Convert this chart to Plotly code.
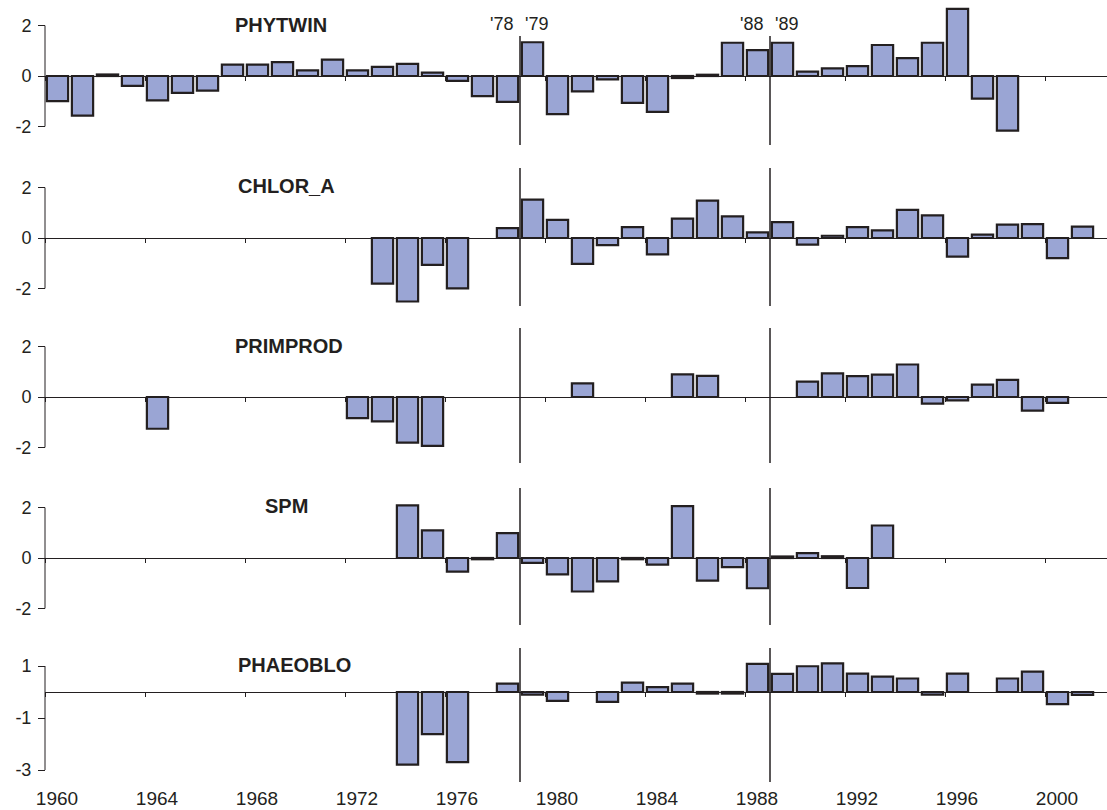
import plotly.graph_objects as go

# ---------------- data ----------------
years = list(range(1960, 2002))

phytwin = [-1.0, -1.57, 0.06, -0.39, -0.97, -0.67, -0.58, 0.45, 0.45, 0.55,
           0.22, 0.65, 0.22, 0.36, 0.48, 0.13, -0.19, -0.8, -1.03, 1.34,
           -1.51, -0.61, -0.13, -1.07, -1.42, -0.08, 0.05, 1.32, 1.03, 1.32,
           0.17, 0.30, 0.39, 1.23, 0.71, 1.32, 2.66, -0.9, -2.17, None,
           None, None]

chlor_a = [None] * 13 + [-1.81, -2.52, -1.07, -2.0, None, 0.39, 1.52,
           0.72, -1.03, -0.28, 0.43, -0.65, 0.77, 1.48, 0.86, 0.22, 0.63,
           -0.26, 0.09, 0.43, 0.30, 1.12, 0.90, -0.74, 0.13, 0.53, 0.55,
           -0.8, 0.45]

primprod = [None, None, None, None, -1.26, None, None, None, None, None,
            None, None, -0.84, -0.97, -1.81, -1.94, None, None, None, None,
            None, 0.54, None, None, None, 0.90, 0.84, None, None, None,
            0.61, 0.94, 0.83, 0.89, 1.29, -0.26, -0.13, 0.49, 0.68, -0.54,
            -0.23, None]

spm = [None] * 14 + [2.09, 1.10, -0.54, -0.05, 0.99, -0.19,
       -0.65, -1.33, -0.93, -0.05, -0.26, 2.06, -0.90, -0.36, -1.20, 0.06,
       0.19, 0.07, -1.19, 1.29, None, None, None, None, None, None,
       None, None]

phaeoblo = [None] * 14 + [-2.79, -1.62, -2.70, None, 0.32, -0.10,
            -0.34, None, -0.38, 0.36, 0.19, 0.32, -0.06, -0.06, 1.08, 0.70,
            0.99, 1.10, 0.71, 0.59, 0.52, -0.10, 0.71, None, 0.52, 0.78,
            -0.47, -0.11]

series_names = ["PHYTWIN", "CHLOR_A", "PRIMPROD", "SPM", "PHAEOBLO"]
series_values = [phytwin, chlor_a, primprod, spm, phaeoblo]
y_ticks = [[-2, 0, 2], [-2, 0, 2], [-2, 0, 2], [-2, 0, 2], [-3, -1, 1]]
year_labels = [str(y) for y in range(1960, 2001, 4)]
break_years = [1979, 1989]
break_labels = [("'78", "'79"), ("'88", "'89")]

# ---------------- layout geometry ----------------
W, H = 1107, 810
ML = 45
PPY = 25.0  # px per year
x_range = [1959.5, 1959.5 + (W - ML) / PPY]

# per panel: zero px, px per unit, domain top px, domain bottom px,
# vertical-line top/bottom px, title centre x px, title y px
panels = [
    dict(zero=76, ppu=25.2, top=0, bot=150, lt=36, lb=145, tx=281, ty=25),
    dict(zero=238, ppu=25.2, top=158, bot=312, lt=168, lb=306, tx=286, ty=186),
    dict(zero=397, ppu=25.2, top=318, bot=470, lt=328, lb=463, tx=289, ty=346),
    dict(zero=558, ppu=25.2, top=478, bot=632, lt=488, lb=625, tx=286, ty=506),
    dict(zero=692, ppu=26.0, top=640, bot=786, lt=648, lb=782, tx=294, ty=665),
]

FONT = "Liberation Sans, Arial, Helvetica, sans-serif"
FILL = "rgb(154,165,212)"
EDGE = "#231F20"


def fy(px):
    return 1 - px / H


def fx(px):
    return (px - ML) / (W - ML)


fig = go.Figure()
layout = dict(
    width=W, height=H,
    margin=dict(l=ML, r=0, t=0, b=0, autoexpand=False),
    paper_bgcolor="white", plot_bgcolor="rgba(0,0,0,0)",
    showlegend=False, bargap=0.15,
    font=dict(family=FONT, size=18, color="#231F20"),
)
shapes = []
annotations = []

for i, (name, vals, p, yt) in enumerate(zip(series_names, series_values, panels, y_ticks)):
    n = i + 1
    xa = "x" if n == 1 else f"x{n}"
    ya = "y" if n == 1 else f"y{n}"
    fig.add_trace(go.Bar(
        x=years, y=vals, xaxis=xa, yaxis=ya,
        marker=dict(color=FILL, line=dict(color=EDGE, width=2.2)),
        name=name,
    ))
    yr = [-(p["bot"] - p["zero"]) / p["ppu"], (p["zero"] - p["top"]) / p["ppu"]]
    last = (n == len(series_names))
    xaxis = dict(
        range=x_range, domain=[0, 1], anchor="free", position=fy(p["zero"]),
        showline=True, linecolor=EDGE, linewidth=1,
        ticks="outside", ticklen=4, tickcolor=EDGE, tickwidth=1,
        tickvals=[int(v) - 0.5 for v in year_labels],
        showgrid=False, zeroline=False, automargin=False,
        showticklabels=last,
    )
    if last:
        xaxis.update(ticktext=year_labels, ticklabelshift=int(round(PPY / 2)),
                     ticklabelstandoff=85, tickfont=dict(size=19, family=FONT))
    yaxis = dict(
        range=yr, domain=[fy(p["bot"]), fy(p["top"])], anchor="free", position=0,
        showline=False, showgrid=False, zeroline=False, automargin=False,
        ticks="outside", ticklen=7, tickcolor=EDGE, tickwidth=1,
        tickvals=yt, ticktext=[str(t) for t in yt],
        tickfont=dict(size=18, family=FONT),
        ticklabelstandoff=3,
    )
    layout["xaxis" if n == 1 else f"xaxis{n}"] = xaxis
    layout["yaxis" if n == 1 else f"yaxis{n}"] = yaxis

    # left axis line spanning only the ticked range
    shapes.append(dict(type="line", xref="paper", yref=ya, x0=0, x1=0,
                       y0=min(yt), y1=max(yt), line=dict(color=EDGE, width=1)))
    # vertical regime-shift lines
    for by in break_years:
        shapes.append(dict(type="line", xref=xa, yref=ya,
                           x0=by - 0.5, x1=by - 0.5,
                           y0=(p["zero"] - p["lb"]) / p["ppu"],
                           y1=(p["zero"] - p["lt"]) / p["ppu"],
                           line=dict(color=EDGE, width=1.5)))
    annotations.append(dict(text=f"<b>{name}</b>", xref="paper", yref="paper",
                            x=fx(p["tx"]), y=fy(p["ty"]), xanchor="center",
                            yanchor="middle", showarrow=False,
                            font=dict(size=20, family=FONT, color=EDGE)))

for by, (lab_l, lab_r) in zip(break_years, break_labels):
    xpx = ML + (by - 0.5 - x_range[0]) * PPY
    annotations.append(dict(text=lab_l, xref="paper", yref="paper",
                            x=fx(xpx - 5), y=fy(24), xanchor="right", yanchor="middle",
                            showarrow=False, font=dict(size=18, family=FONT, color=EDGE)))
    annotations.append(dict(text=lab_r, xref="paper", yref="paper",
                            x=fx(xpx + 3), y=fy(24), xanchor="left", yanchor="middle",
                            showarrow=False, font=dict(size=18, family=FONT, color=EDGE)))

layout["shapes"] = shapes
layout["annotations"] = annotations
fig.update_layout(**layout)
fig.write_html(
    "out.html",
    config={"displayModeBar": False},
    post_script="document.body.style.margin='0';document.body.style.overflow='hidden';",
)
